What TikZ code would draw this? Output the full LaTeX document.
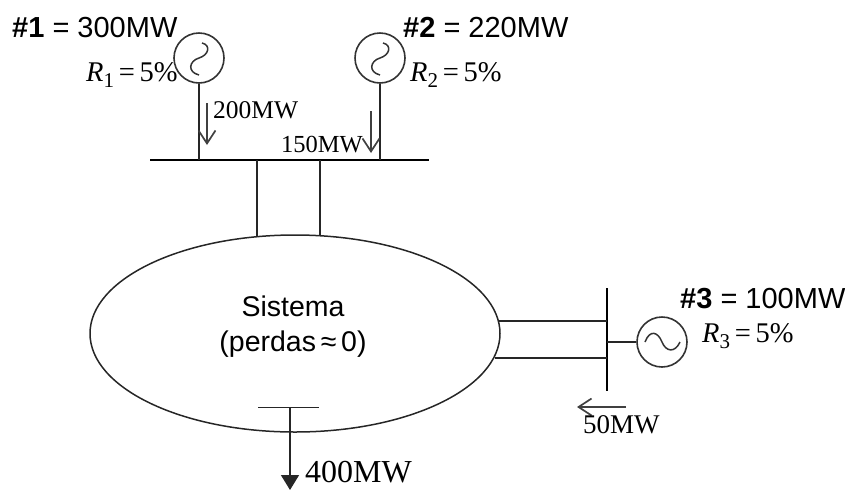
\documentclass[tikz,border=0pt]{standalone}
\usepackage{fontspec}
\setmainfont{Liberation Serif}
\newfontfamily\arialf{Liberation Sans}
\usetikzlibrary{arrows.meta,shapes.geometric}
\newcommand{\rlabel}[2]{\textit{R}\raisebox{-.22em}{\fontsize{21}{21}\selectfont #1}\,=\,#2\%}
\tikzset{
  x=1pt,y=-1pt,
  wire/.style={draw=black!85,line width=1.5pt},
  busbar/.style={draw=black,line width=2.8pt},
  gencircle/.style={circle,draw=black!80,line width=1.6pt,minimum size=50pt,inner sep=0pt},
  sysellipse/.style={ellipse,draw=black!85,line width=1.5pt,minimum width=410pt,minimum height=197pt,inner sep=0pt},
  wave/.style={draw=black!80,line width=1.5pt},
  flow/.style={draw=black!75,line width=1.7pt,-{Straight Barb[length=13pt,width=17pt,line width=1.7pt]}},
  loadarrow/.style={wire,-{Triangle[length=15pt,width=18pt]}},
  sanslabel/.style={anchor=base west,inner sep=0pt,font=\arialf\fontsize{29}{32}\selectfont},
  sanscenter/.style={anchor=base,inner sep=0pt,font=\arialf\fontsize{28.5}{32}\selectfont},
  serifmw/.style={anchor=base west,inner sep=0pt,font=\fontsize{25.5}{28}\selectfont},
  seriflarge/.style={anchor=base west,inner sep=0pt,font=\fontsize{32}{34}\selectfont},
  rlab/.style={anchor=base west,inner sep=0pt,font=\fontsize{28.5}{30}\selectfont},
}
\begin{document}
\begin{tikzpicture}
\useasboundingbox (0,0) rectangle (845,491);
% Nodes
\node[gencircle] (gen1) at (199,58) {};
\node[gencircle] (gen2) at (380,58) {};
\node[gencircle] (gen3) at (662,342) {};
\node[sysellipse] (sys) at (295,333.5) {};
% Bus coordinates
\coordinate (busAw) at (150,160);
\coordinate (busAe) at (429,160);
\coordinate (busBn) at (607,288);
\coordinate (busBs) at (607,391);
\coordinate (loadw) at (258,407.5);
\coordinate (loade) at (319,407.5);
\coordinate (loadc) at (290,407.5);
\coordinate (loadend) at (290,490);
\coordinate (tieAw) at (257,236);
\coordinate (tieAe) at (320,236);
\coordinate (tieBn) at (498,321);
\coordinate (tieBs) at (495,358);
% Buses
\draw[busbar] (busAw) -- (busAe);
\draw[busbar] (busBn) -- (busBs);
% Connectors
\draw[wire] (gen1) -- (gen1 |- busAw);
\draw[wire] (gen2) -- (gen2 |- busAw);
\draw[wire] (tieAw) -- (tieAw |- busAw);
\draw[wire] (tieAe) -- (tieAe |- busAw);
\draw[wire] (tieBn) -- (tieBn -| busBn);
\draw[wire] (tieBs) -- (tieBs -| busBn);
\draw[wire] (gen3) -- (gen3 -| busBn);
\draw[wire] (loadw) -- (loade);
\draw[loadarrow] (loadc) -- (loadend);
% Waves
\draw[wave] ([shift={(3,-15)}]gen1.center) .. controls ([shift={(12,-13)}]gen1.center) and ([shift={(10,-3)}]gen1.center) .. (gen1.center) .. controls ([shift={(-10,3)}]gen1.center) and ([shift={(-12,14)}]gen1.center) .. ([shift={(0,17)}]gen1.center);
\draw[wave] ([shift={(3,-15)}]gen2.center) .. controls ([shift={(12,-13)}]gen2.center) and ([shift={(10,-3)}]gen2.center) .. (gen2.center) .. controls ([shift={(-10,3)}]gen2.center) and ([shift={(-12,14)}]gen2.center) .. ([shift={(0,17)}]gen2.center);
\draw[wave] ([shift={(-17,0)}]gen3.center) .. controls ([shift={(-12,-13)}]gen3.center) and ([shift={(-4,-10)}]gen3.center) .. (gen3.center) .. controls ([shift={(4,10)}]gen3.center) and ([shift={(13,11)}]gen3.center) .. ([shift={(18,0)}]gen3.center);
% Flow arrows
\coordinate (f1a) at (207,103); \coordinate (f1b) at (207,145);
\coordinate (f2a) at (371,111); \coordinate (f2b) at (371,153);
\coordinate (f3a) at (626,407); \coordinate (f3b) at (577,407);
\draw[flow] (f1a) -- (f1b);
\draw[flow] (f2a) -- (f2b);
\draw[flow] (f3a) -- (f3b);
% Labels
\node[sanslabel] (l1) at (12,37) {\textbf{\#1} = 300MW};
\node[sanslabel] (l2) at (403,37) {\textbf{\#2} = 220MW};
\node[sanslabel] (l3) at (680,308) {\textbf{\#3} = 100MW};
\node[rlab] (r1) at (86,81) {\rlabel{1}{5}};
\node[rlab] (r2) at (410,81) {\rlabel{2}{5}};
\node[rlab] (r3) at (702,342) {\rlabel{3}{5}};
\node[serifmw] (m1) at (213,118) {200MW};
\node[serifmw,font=\fontsize{24.5}{28}\selectfont] (m2) at (281,152) {150MW};
\node[anchor=base west,inner sep=0pt,font=\fontsize{27}{30}\selectfont] (m3) at (583,433) {50MW};
\node[seriflarge] (m4) at (305,482) {400MW};
\node[sanscenter] (s1) at (293,316) {Sistema};
\node[sanscenter] (s2) at (293,351) {(perdas\,≈\,0)};
\end{tikzpicture}
\end{document}
